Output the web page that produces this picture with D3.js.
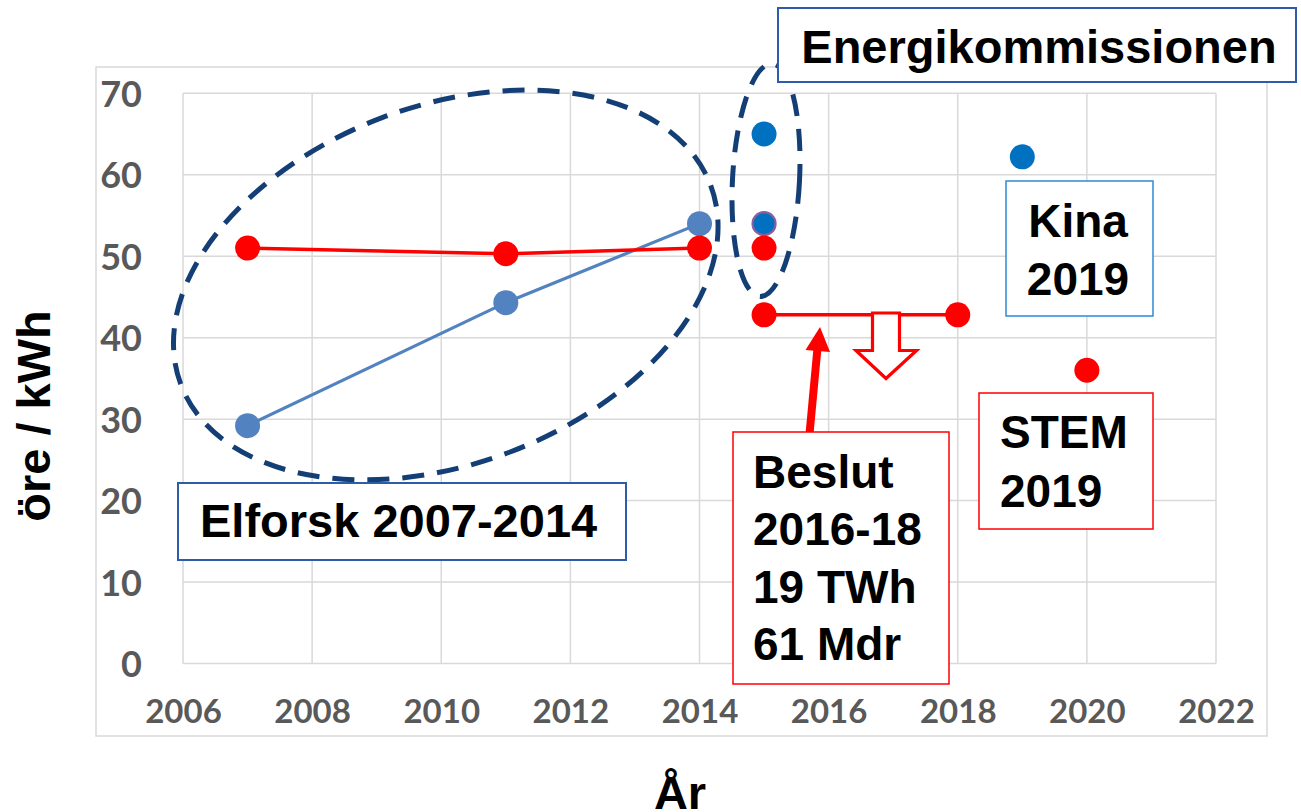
<!DOCTYPE html>
<html>
<head>
<meta charset="utf-8">
<script src="https://cdn.jsdelivr.net/npm/d3@7"></script>
<style>
  body { margin: 0; background: #fff; }
  svg { display: block; }
</style>
</head>
<body>
<svg id="chart" width="1301" height="812"></svg>
<script>
// ---------- data ----------
const xTicks = [2006, 2008, 2010, 2012, 2014, 2016, 2018, 2020, 2022];
const yTicks = [0, 10, 20, 30, 40, 50, 60, 70];

const elforskYears = [2007, 2011, 2014];
const elforskBlue = [29.2, 44.3, 54.0];
const elforskRed = [51.0, 50.3, 51.0];

const ekYears = [2015, 2015, 2015];
const ekValues = [65.0, 54.0, 51.0];
const ekKinds = ["blue", "blueOutlined", "red"];

const beslutYears = [2015, 2018];
const beslutValues = [42.8, 42.8];

const kinaYears = [2019];
const kinaValues = [62.2];

const stemYears = [2020];
const stemValues = [36.0];

const yTitle = "öre / kWh";
const xTitle = "År";

// ---------- layout ----------
const svg = d3.select("#chart");
const W = 1301, H = 812;
const plot = { left: 183, right: 1216, top: 93.3, bottom: 663.5 };

const x = d3.scaleLinear().domain([2006, 2022]).range([plot.left, plot.right]);
const y = d3.scaleLinear().domain([0, 70]).range([plot.bottom, plot.top]);

svg.append("rect").attr("width", W).attr("height", H).attr("fill", "#fff");

// outer chart border
svg.append("rect")
  .attr("x", 96).attr("y", 67).attr("width", 1171).attr("height", 669)
  .attr("fill", "none").attr("stroke", "#d9d9d9").attr("stroke-width", 1.5);

// gridlines
const grid = svg.append("g");
grid.selectAll(".vg").data(xTicks).join("line")
  .attr("x1", d => x(d)).attr("x2", d => x(d))
  .attr("y1", plot.top).attr("y2", plot.bottom)
  .attr("stroke", "#d9d9d9").attr("stroke-width", 1.5);
grid.selectAll(".hg").data(yTicks).join("line")
  .attr("x1", plot.left).attr("x2", plot.right)
  .attr("y1", d => y(d)).attr("y2", d => y(d))
  .attr("stroke", "#d9d9d9").attr("stroke-width", 1.5);

// axes (labels only)
const yAxis = svg.append("g").attr("transform", `translate(${plot.left},0)`)
  .call(d3.axisLeft(y).tickValues(yTicks).tickSize(0).tickPadding(41).tickFormat(d3.format("d")));
yAxis.select(".domain").remove();
yAxis.selectAll("text")
  .attr("dy", "0.36em")
  .style("font-family", "Lato, 'Open Sans', sans-serif")
  .style("font-weight", "bold").style("font-size", "36px").attr("fill", "#595959");

const xAxis = svg.append("g").attr("transform", `translate(0,${plot.bottom})`)
  .call(d3.axisBottom(x).tickValues(xTicks).tickSize(0).tickFormat(d3.format("d")));
xAxis.select(".domain").remove();
xAxis.selectAll("text")
  .attr("y", 59.5).attr("dy", 0)
  .style("font-family", "Lato, 'Open Sans', sans-serif")
  .style("font-weight", "bold").style("font-size", "33px").attr("fill", "#595959");

// axis titles
svg.append("text")
  .attr("transform", `translate(50,416) rotate(-90)`)
  .attr("text-anchor", "middle")
  .style("font-family", "'Liberation Sans', Arial, sans-serif")
  .style("font-weight", "bold").style("font-size", "47px").attr("fill", "#000")
  .text(yTitle);
svg.append("text")
  .attr("x", 680).attr("y", 809)
  .attr("text-anchor", "middle")
  .style("font-family", "'Liberation Sans', Arial, sans-serif")
  .style("font-weight", "bold").style("font-size", "47px").attr("fill", "#000")
  .text(xTitle);

// ---------- series ----------
const R = 12.5;
const blueLight = "#5282bf";
const blueDark = "#0070c0";
const red = "#ff0000";

const line = d3.line().x(d => x(d[0])).y(d => y(d[1]));

const elBluePts = elforskYears.map((yr, i) => [yr, elforskBlue[i]]);
const elRedPts = elforskYears.map((yr, i) => [yr, elforskRed[i]]);
const beslutPts = beslutYears.map((yr, i) => [yr, beslutValues[i]]);

svg.append("path").datum(elBluePts).attr("d", line)
  .attr("fill", "none").attr("stroke", blueLight).attr("stroke-width", 3.2);
svg.selectAll(".elb").data(elBluePts).join("circle")
  .attr("cx", d => x(d[0])).attr("cy", d => y(d[1])).attr("r", R).attr("fill", blueLight);

svg.append("path").datum(elRedPts).attr("d", line)
  .attr("fill", "none").attr("stroke", red).attr("stroke-width", 3.5);
svg.selectAll(".elr").data(elRedPts).join("circle")
  .attr("cx", d => x(d[0])).attr("cy", d => y(d[1])).attr("r", R).attr("fill", red);

// Energikommissionen points
const ekPts = ekYears.map((yr, i) => ({ yr, v: ekValues[i], k: ekKinds[i] }));
svg.selectAll(".ek").data(ekPts).join("circle")
  .attr("cx", d => x(d.yr)).attr("cy", d => y(d.v))
  .attr("r", d => d.k === "blueOutlined" ? R - 1 : R)
  .attr("fill", d => d.k === "red" ? red : blueDark)
  .attr("stroke", d => d.k === "blueOutlined" ? "#8a5f9e" : "none")
  .attr("stroke-width", 2.2);

// Beslut
svg.append("path").datum(beslutPts).attr("d", line)
  .attr("fill", "none").attr("stroke", red).attr("stroke-width", 3.5);
svg.selectAll(".bs").data(beslutPts).join("circle")
  .attr("cx", d => x(d[0])).attr("cy", d => y(d[1])).attr("r", R).attr("fill", red);

// Kina
svg.selectAll(".ki").data(kinaYears.map((yr, i) => [yr, kinaValues[i]])).join("circle")
  .attr("cx", d => x(d[0])).attr("cy", d => y(d[1])).attr("r", R).attr("fill", blueDark);

// STEM
svg.selectAll(".st").data(stemYears.map((yr, i) => [yr, stemValues[i]])).join("circle")
  .attr("cx", d => x(d[0])).attr("cy", d => y(d[1])).attr("r", R).attr("fill", red);

// ---------- annotations ----------
// solid red arrow pointing to the Beslut line
svg.append("line")
  .attr("x1", 809.5).attr("y1", 434).attr("x2", 817.5).attr("y2", 348)
  .attr("stroke", red).attr("stroke-width", 8);
svg.append("path")
  .attr("d", "M820,327 L830,352 L805.5,350 Z")
  .attr("fill", red);

// hollow down arrow
svg.append("path")
  .attr("d", "M872.5,313 L899.5,313 L899.5,350.5 L916.5,350.5 L886,378.5 L856,350.5 L872.5,350.5 Z")
  .attr("fill", "#fff").attr("stroke", red).attr("stroke-width", 3.2)
  .attr("stroke-linejoin", "miter");

// dashed ellipses
const navy = "#143e76";
svg.append("ellipse")
  .attr("transform", `translate(${x(2010.07)},${y(46.47)}) rotate(-20.6)`)
  .attr("rx", 283).attr("ry", 179)
  .attr("fill", "none").attr("stroke", navy).attr("stroke-width", 5)
  .attr("stroke-dasharray", "22,13");
svg.append("ellipse")
  .attr("transform", `translate(${x(2015.03)},${y(59.35)}) rotate(3)`)
  .attr("rx", 33.5).attr("ry", 116.5)
  .attr("fill", "none").attr("stroke", navy).attr("stroke-width", 5)
  .attr("stroke-dasharray", "22,13");

// text boxes
function box(rx, ry, rw, rh, stroke, sw, lines, tx, anchor, baselines, size) {
  const g = svg.append("g");
  g.append("rect").attr("x", rx).attr("y", ry).attr("width", rw).attr("height", rh)
    .attr("fill", "#fff").attr("stroke", stroke).attr("stroke-width", sw);
  lines.forEach((t, i) => {
    g.append("text").attr("x", tx).attr("y", baselines[i])
      .attr("text-anchor", anchor)
      .style("font-family", "'Liberation Sans', Arial, sans-serif")
      .style("font-weight", "bold").style("font-size", size + "px")
      .attr("fill", "#000").text(t);
  });
}

box(778, 8, 518, 74, "#2f5ca6", 2, ["Energikommissionen"], 1039, "middle", [63], 47);
box(178, 483, 448, 77, "#2f5ca6", 2, ["Elforsk 2007-2014"], 200, "start", [537], 47);
box(1006, 181, 147, 135, "#2e8bd4", 1.5, ["Kina", "2019"], 1078, "middle", [237, 295], 46);
box(979, 393, 174, 136, red, 1.5, ["STEM", "2019"], 1000, "start", [448, 507], 46);
box(733, 432, 216, 252, red, 1.5, ["Beslut", "2016-18", "19 TWh", "61 Mdr"], 753, "start", [488, 545, 603, 660], 46);
</script>
</body>
</html>
